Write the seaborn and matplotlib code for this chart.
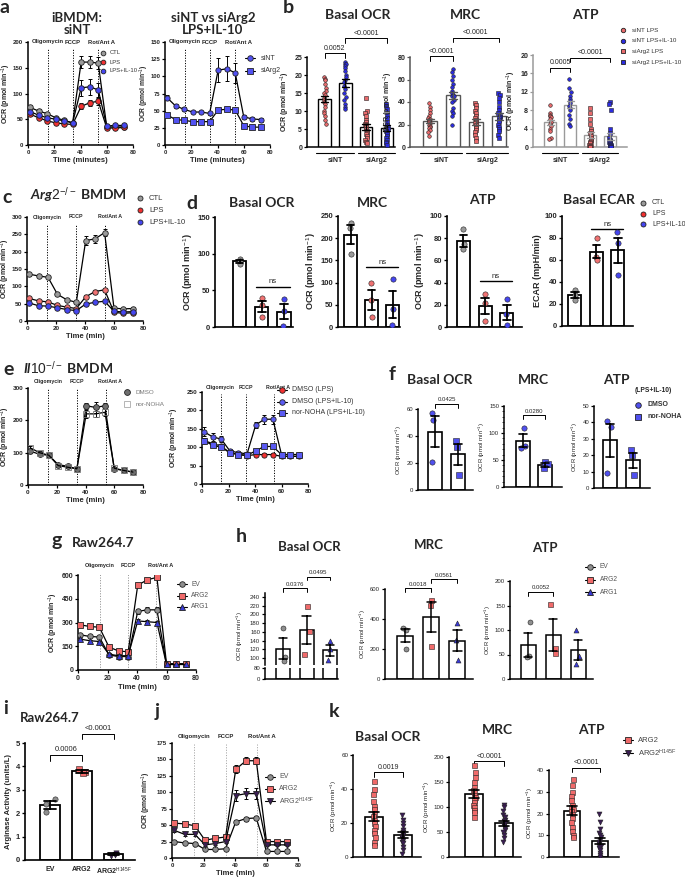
import numpy as np
import pandas as pd
import matplotlib
matplotlib.use("Agg")
import matplotlib.pyplot as plt
import matplotlib.transforms as mtransforms
from matplotlib.lines import Line2D
from matplotlib.ticker import MultipleLocator
import seaborn as sns

W, H = 685, 881

# seahorse time points (min) and injections
TIME = [1.5, 8, 14.5, 21, 27.5, 34, 40.5, 47, 53.5, 60, 66.5, 73]
INJ = ["Oligomycin", "FCCP", "Rot/Ant A"]

# a: iBMDM siNT
A1_CTL = [73, 66, 61, 53, 48, 43, 161, 161, 159, 35, 35, 35]
A1_CTL_SEM = [4, 3, 3, 2, 2, 2, 11, 11, 11, 3, 3, 3]
A1_LPS = [60, 53, 47, 43, 41, 40, 75, 82, 85, 33, 33, 34]
A1_LPS_SEM = [3, 2, 2, 2, 2, 2, 6, 6, 7, 2, 2, 2]
A1_IL10 = [65, 58, 53, 50, 47, 43, 111, 113, 107, 37, 38, 38]
A1_IL10_SEM = [3, 3, 3, 2, 2, 2, 15, 16, 14, 2, 2, 2]
# a: siNT vs siArg2 (LPS+IL-10)
A2_SINT = [69, 57, 52, 48, 48, 46, 109, 111, 105, 41, 38, 37]
A2_SINT_SEM = [4, 3, 3, 2, 2, 2, 17, 18, 15, 3, 3, 3]
A2_SIARG2 = [44, 37, 36, 34, 34, 34, 51, 52, 51, 28, 26, 26]
A2_SIARG2_SEM = [2, 2, 2, 2, 2, 2, 3, 3, 3, 2, 2, 2]

# b: siNT / siArg2 bars
B_CATS = ["siNT LPS", "siNT LPS+IL-10", "siArg2 LPS", "siArg2 LPS+IL-10"]
B_BASAL = [
    [19.5, 19, 18.5, 17.5, 16.5, 15.5, 15, 14.5, 13.5, 13, 12.5, 12, 11, 10, 9.5, 8.5, 7.5, 6.5],
    [23.5, 23, 23, 22.5, 22, 21, 20, 19.5, 18.5, 18, 17, 16, 15, 14, 13, 12, 11, 10.5],
    [13.7, 10, 9.5, 8.5, 7.5, 7, 6.5, 6, 5.5, 5, 4.5, 4, 3.5, 3, 2.5, 2, 1.5, 1],
    [12, 11.5, 10.5, 9, 8, 7, 6, 5.5, 5, 4.5, 4, 3.5, 3, 2.5, 2, 1.5, 1, 0.5]]
B_MRC = [
    [39, 36, 33, 30, 28, 26, 25, 24, 23, 22, 21, 20, 19, 18, 17, 15, 13, 10],
    [69, 67, 63, 60, 56, 53, 50, 48, 46, 45, 45, 42, 40, 35, 32, 30, 28, 20],
    [39, 37, 35, 32, 30, 28, 26, 24, 22, 21, 20, 18, 17, 15, 13, 11, 8, 5],
    [48, 46, 44, 40, 36, 33, 30, 28, 27, 26, 24, 22, 20, 18, 16, 14, 11, 8]]
B_ATP = [
    [9.2, 7.5, 7, 6.8, 6.5, 6, 5.5, 5, 4.5, 4, 3.5, 2, 1.8],
    [14.7, 12.8, 12, 11, 10.5, 10, 9.5, 9, 8.5, 8, 7, 6, 5, 4.5],
    [8.5, 7.5, 6, 5, 4, 3.5, 3, 2.5, 2, 1.5, 1.2, 1, 0.8, 0.5, 0.3, 0.2, 0.1, 0],
    [9.8, 9.3, 8, 4, 3, 2, 1.5, 1.2, 1, 0.8, 0.6, 0.5, 0.4, 0.3, 0.2, 0.1, 0.1, 0]]

# c: Arg2-/- BMDM
C_CTL = [135, 130, 126, 77, 61, 54, 232, 237, 255, 37, 35, 36]
C_CTL_SEM = [4, 3, 3, 3, 3, 3, 12, 12, 10, 3, 3, 3]
C_LPS = [65, 58, 55, 45, 40, 36, 70, 85, 90, 25, 22, 24]
C_LPS_SEM = [3, 3, 3, 3, 2, 2, 4, 5, 6, 2, 2, 2]
C_IL10 = [52, 44, 43, 38, 33, 30, 49, 54, 57, 28, 26, 27]
C_IL10_SEM = [3, 3, 3, 2, 2, 2, 3, 3, 3, 2, 2, 2]

# d: Arg2-/- bars (CTL, LPS, LPS+IL-10)
D_CATS = ["CTL", "LPS", "LPS+IL-10"]
D_BASAL = [[93, 90, 86], [40, 30, 13], [38, 22, 2]]
D_MRC = [[235, 222, 165], [100, 60, 22], [107, 40, 5]]
D_ATP = [[88, 75, 70], [30, 22, 5], [25, 12, 2]]
D_ECAR = [[33, 28, 24], [80, 63, 60], [85, 75, 46]]

# e: Il10-/- BMDM
E1_DMSO = [105, 95, 92, 63, 58, 50, 245, 240, 245, 50, 45, 40]
E1_DMSO_SEM = [5, 5, 4, 3, 3, 3, 10, 18, 10, 3, 3, 3]
E1_NOHA = [115, 100, 92, 60, 55, 50, 220, 220, 225, 52, 45, 40]
E1_NOHA_SEM = [5, 5, 4, 3, 3, 3, 12, 10, 12, 3, 3, 3]
E2_LPS = [118, 110, 103, 85, 80, 77, 80, 80, 80, 75, 75, 75]
E2_LPS_SEM = [6, 5, 5, 3, 3, 3, 3, 3, 3, 3, 3, 3]
E2_IL10 = [142, 128, 122, 90, 85, 82, 160, 176, 176, 80, 80, 80]
E2_IL10_SEM = [12, 10, 8, 4, 4, 4, 8, 12, 12, 3, 3, 3]
E2_NOHA = [118, 105, 100, 85, 80, 78, 90, 102, 102, 80, 80, 80]
E2_NOHA_SEM = [6, 5, 5, 3, 3, 3, 4, 5, 5, 3, 3, 3]

# f: Il10-/- bars (LPS+IL-10)
F_CATS = ["DMSO", "nor-NOHA"]
F_BASAL = [[57, 52, 21], [36, 32, 11]]
F_MRC = [[110, 75, 72], [47, 42, 35]]
F_ATP = [[41, 37, 9], [23, 20, 8]]

# g: Raw264.7
G_EV = [222, 212, 208, 95, 85, 85, 370, 380, 380, 35, 35, 35]
G_EV_SEM = [6, 6, 6, 5, 5, 5, 15, 15, 15, 4, 4, 4]
G_ARG2 = [285, 275, 270, 145, 120, 115, 535, 570, 585, 40, 40, 40]
G_ARG2_SEM = [8, 8, 8, 6, 6, 6, 12, 12, 10, 4, 4, 4]
G_ARG1 = [195, 185, 180, 100, 90, 90, 310, 305, 300, 35, 35, 35]
G_ARG1_SEM = [6, 6, 6, 5, 5, 5, 10, 10, 10, 4, 4, 4]

# h: Raw264.7 bars
H_CATS = ["EV", "ARG2", "ARG1"]
H_BASAL = [[168, 103, 93], [220, 163, 110], [138, 120, 95]]
H_MRC = [[340, 324, 200], [524, 496, 218], [373, 262, 129]]
H_ATP = [[117, 47, 44], [154, 63, 53], [100, 47, 30]]

# i: arginase activity
I_CATS = ["EV", "ARG2", "ARG2$^{\\mathrm{H145F}}$"]
I_ACT = [[2.6, 2.4, 2.05], [3.9, 3.75, 3.7], [0.32, 0.22, 0.18]]

# j: Raw264.7 EV / ARG2 / ARG2 H145F
J_EV = [25, 23, 22, 13, 13, 14, 55, 60, 61, 10, 10, 10]
J_EV_SEM = [2, 2, 2, 1, 1, 1, 3, 3, 3, 1, 1, 1]
J_ARG2 = [53, 52, 49, 27, 30, 32, 135, 148, 148, 25, 25, 25]
J_ARG2_SEM = [3, 3, 3, 2, 2, 2, 6, 5, 5, 2, 2, 2]
J_MUT = [42, 36, 36, 20, 22, 25, 95, 98, 98, 20, 20, 20]
J_MUT_SEM = [3, 3, 3, 2, 2, 2, 8, 8, 8, 2, 2, 2]

# k: ARG2 vs ARG2 H145F bars
K_CATS = ["ARG2", "ARG2 H145F"]
K_BASAL = [[45, 40, 37, 33, 30, 28, 26, 24, 22, 20, 18, 16, 14, 12, 9, 7],
           [25, 22, 20, 18, 16, 15, 14, 13, 12, 11, 10, 9, 8, 6, 4, 2]]
K_MRC = [[185, 170, 160, 150, 140, 135, 130, 125, 120, 115, 110, 105, 100, 95, 90, 80],
         [105, 100, 92, 85, 80, 75, 72, 68, 65, 62, 58, 55, 50, 45, 38, 30]]
K_ATP = [[36, 33, 30, 28, 26, 24, 23, 22, 21, 20, 18, 16, 14, 12, 10, 9],
         [20, 16, 13, 11, 10, 9, 8, 7, 6, 5, 5, 4, 3, 2, 1, 0]]

GRAY = "#9a9a9a"
RED = "#f23030"
BLUE = "#4646f0"
SALMON = "#f07272"
DKGRAY = "#6e6e6e"
PURPLE = "#3b1d55"
OCR = "OCR (pmol min$^{-1}$)"

sns.set_theme(style="ticks")
plt.rcParams["font.family"] = ["Liberation Sans", "DejaVu Sans"]
plt.rcParams["mathtext.fontset"] = "custom"
plt.rcParams["mathtext.rm"] = "Liberation Sans"
plt.rcParams["mathtext.it"] = "Lato:italic:bold"
plt.rcParams["mathtext.bf"] = "Liberation Sans:bold"
plt.rcParams["axes.facecolor"] = "none"

fig = plt.figure(figsize=(W / 100, H / 100), dpi=100)


def add_ax(x0, y0, x1, y1):
    return fig.add_axes([x0 / W, 1 - y1 / H, (x1 - x0) / W, (y1 - y0) / H])


def ylab_at(ax, xpx):
    # xpx: right edge of the rotated y label, in picture pixels
    pos = ax.get_position()
    ax.yaxis.set_label_coords((xpx - pos.x0 * W) / (pos.width * W), 0.5)


def ftext(x, y, s, **kw):
    fig.text(x / W, 1 - y / H, s, **kw)


def letter(x, y, s):
    ftext(x, y, s, fontsize=14, fontweight="bold", family="Lato", va="top", ha="left")


def title(x, y, s, fs=10):
    ftext(x, y, s, fontsize=fs, fontweight="bold", family="Lato", ha="center", va="center",
          linespacing=1.1)


def legend_px(x, y, dy, entries, fs=5, tx=9, line=False, ms=3.6, weight="normal", tcolor="#333333"):
    for i, (label, face, marker) in enumerate(entries):
        yy = 1 - (y + i * dy) / H
        if line:
            fig.add_artist(Line2D([(x - 5) / W, (x + 5) / W], [yy, yy], color="black", lw=0.8,
                                  transform=fig.transFigure))
        edge = "#aaaaaa" if face == "none" else "#222222"
        fig.add_artist(Line2D([x / W], [yy], marker=marker, ms=ms, mfc=face, mec=edge, mew=0.6,
                              ls="none", transform=fig.transFigure))
        fig.text((x + tx) / W, yy, label, fontsize=fs, va="center", ha="left", weight=weight,
                 color=tcolor)


def style(ax, ylim, yticks, ylabel, xlim=None, fs=5, lw=1.1, bold=True, color="black", ylfs=None):
    w = "bold" if bold else "normal"
    ax.set_ylim(ylim)
    ax.set_yticks(yticks)
    ax.set_yticklabels([f"{t:g}" for t in yticks], fontsize=fs, fontweight=w)
    if xlim is not None:
        ax.set_xlim(xlim)
    ax.set_ylabel(ylabel, fontsize=ylfs or fs, fontweight=w, labelpad=1.5)
    ax.set_xlabel("")
    sns.despine(ax=ax)
    for s in ("left", "bottom"):
        ax.spines[s].set_linewidth(lw)
        ax.spines[s].set_color(color)
    ax.tick_params(axis="both", width=lw * 0.8, length=2.5, pad=1, color=color)


def seahorse(ax, series, ylim, yticks, xlabel, inj, lab_y=1.0, ms=4.0, inj_color="black",
             fs=5, inj_fs=4.2, ylabel=OCR, ylab_x=None, ylfs=5):
    for vals, sem, face, marker in series:
        edge = "#777777" if face == "none" else "#222222"
        sns.lineplot(x=TIME, y=vals, ax=ax, color="black", linewidth=0.9, marker=marker,
                     markersize=ms, markerfacecolor=face, markeredgecolor=edge,
                     markeredgewidth=0.6, zorder=3)
        ax.errorbar(TIME, vals, yerr=sem, fmt="none", ecolor="black", elinewidth=0.7,
                    capsize=1.6, capthick=0.7, zorder=2)
    style(ax, ylim, yticks, ylabel, xlim=(0, 80), fs=fs, ylfs=ylfs)
    ax.set_xticks([0, 20, 40, 60, 80])
    ax.set_xticklabels(["0", "20", "40", "60", "80"], fontsize=fs, fontweight="bold")
    ax.set_xlabel(xlabel, fontsize=5.5, fontweight="bold", labelpad=1.5)
    if ylab_x is not None:
        ylab_at(ax, ylab_x)
    tr = mtransforms.blended_transform_factory(ax.transData, ax.transAxes)
    for t, lab in zip(inj, INJ):
        ax.plot([t, t], [0, lab_y - 0.07], transform=tr, color=inj_color, lw=0.7,
                ls=(0, (1.2, 1.5)), zorder=1)
        ax.text(t + (3 if lab.startswith("Rot") else 0), lab_y, lab, transform=tr,
                ha="center", va="center", fontsize=inj_fs, fontweight="bold", clip_on=False)


def bars(ax, cats, groups, faces, markers, edge="black", lw=1.1, ms=3.0, jitter=0.08,
         width=0.6, points=True, mec="#222222"):
    df = pd.DataFrame({"grp": [c for c, g in zip(cats, groups) for _ in g],
                       "val": [v for g in groups for v in g]})
    sns.barplot(data=df, x="grp", y="val", order=cats, errorbar="se", color="white",
                edgecolor=edge, linewidth=lw, width=width, capsize=0.35,
                err_kws={"color": edge, "linewidth": lw}, ax=ax)
    for ln in ax.lines:
        ln.set_zorder(4)
    if points:
        for c, f, m in zip(cats, faces, markers):
            sns.stripplot(data=df[df["grp"] == c], x="grp", y="val", order=cats, color=f,
                          marker=m, size=ms, jitter=jitter, edgecolor=mec, linewidth=0.4,
                          ax=ax, zorder=3)
    ax.set_xticks([])


def bracket(ax, x1, x2, y, text, h, fs=5, lw=0.7, weight="normal"):
    ax.plot([x1, x1, x2, x2], [y - h, y, y, y - h], color="black", lw=lw, clip_on=False)
    ax.annotate(text, xy=((x1 + x2) / 2, y), xytext=(0, 1), textcoords="offset points",
                ha="center", va="bottom", fontsize=fs, fontweight=weight, annotation_clip=False)


def ns_line(ax, y):
    ax.plot([0.75, 2.25], [y, y], color="black", lw=1.0, clip_on=False)
    ax.annotate("ns", xy=(1.5, y), xytext=(0, 1), textcoords="offset points", ha="center",
                va="bottom", fontsize=5.5)


# ---------------- a ----------------
letter(0, -1, "a")
title(77, 24, "iBMDM:\nsiNT", fs=9.5)
title(213, 24, "siNT vs siArg2\nLPS+IL-10", fs=9.5)
ax = add_ax(28, 42, 133, 145)
seahorse(ax, [(A1_CTL, A1_CTL_SEM, GRAY, "o"), (A1_LPS, A1_LPS_SEM, RED, "o"),
              (A1_IL10, A1_IL10_SEM, BLUE, "o")],
         (0, 200), [0, 50, 100, 150, 200], "Time (minutes)", [15, 34, 53], ylab_x=13, fs=4.4)
legend_px(103, 53, 9, [("CTL", GRAY, "o"), ("LPS", RED, "o"), ("LPS+IL-10", BLUE, "o")],
          fs=4.2, tx=7, ms=3.4)
ax = add_ax(165, 42, 270, 145)
seahorse(ax, [(A2_SINT, A2_SINT_SEM, "#5252f2", "o"), (A2_SIARG2, A2_SIARG2_SEM, "#5252f2", "s")],
         (0, 150), [0, 25, 50, 75, 100, 125, 150], "Time (minutes)", [15, 34, 53], ms=3.8,
         ylab_x=151, fs=4.2, ylfs=4.8)
legend_px(250, 58, 13, [("siNT", "#5252f2", "o"), ("siArg2", "#5252f2", "s")], line=True,
          tx=11, ms=4)

# ---------------- b ----------------
letter(283, -1, "b")
B_FACES = ["#e86a6c", "#2c2ce0", "#e86a6c", "#2c2ce0"]
B_MARK = ["o", "o", "s", "s"]
b_axes = []
for (x0, y0, x1), data, ttl, tx, ylim, yt, ecol in [
        ((307, 57, 395), B_BASAL, "Basal OCR", 358, (0, 25), [0, 5, 10, 15, 20, 25], "black"),
        ((410, 57, 508), B_MRC, "MRC", 465, (0, 80), [0, 20, 40, 60, 80], "#555555"),
        ((533, 55, 627), B_ATP, "ATP", 585, (0, 20), [0, 4, 8, 12, 16, 20], "#9a9a9a")]:
    ax = add_ax(x0, y0, x1, 147)
    bars(ax, B_CATS, data, B_FACES, B_MARK, edge=ecol, lw=1.0, ms=2.6, jitter=0.05)
    xr = (-0.85, 3.4) if ttl != "ATP" else (-0.85, 3.85)
    style(ax, ylim, yt, OCR, xlim=xr, color=ecol)
    title(tx, 15, ttl)
    tr = mtransforms.blended_transform_factory(ax.transData, ax.transAxes)
    for (g0, g1), lab in [((-0.4, 1.4), "siNT"), ((1.6, 3.4), "siArg2")]:
        ax.plot([g0, g1], [-0.07, -0.07], transform=tr, color="black", lw=0.8, clip_on=False)
        ax.text((g0 + g1) / 2, -0.15, lab, transform=tr, ha="center", va="center",
                fontsize=5, fontweight="bold")
    b_axes.append(ax)
bracket(b_axes[0], 0, 1, 26.1, "0.0052", 1.3)
bracket(b_axes[0], 1, 3, 30.3, "<0.0001", 1.3)
bracket(b_axes[1], 0, 1, 80.5, "<0.0001", 4)
bracket(b_axes[1], 1, 3, 97, "<0.0001", 4)
bracket(b_axes[2], 0, 1, 17.2, "0.0005", 1)
bracket(b_axes[2], 1, 3, 19.4, "<0.0001", 1)
legend_px(623, 30, 10.7, [("siNT LPS", "#e86a6c", "o"), ("siNT LPS+IL-10", "#2c2ce0", "o"),
                          ("siArg2 LPS", "#e86a6c", "s"), ("siArg2 LPS+IL-10", "#2c2ce0", "s")],
          fs=4.5, ms=3.2)

# ---------------- c ----------------
letter(2, 189, "c")
ftext(30, 195, "$\\mathit{Arg2}^{-/-}$ BMDM", fontsize=10, fontweight="bold", family="Lato",
      va="center", ha="left")
ax = add_ax(27, 217, 143, 321)
seahorse(ax, [(C_CTL, C_CTL_SEM, GRAY, "o"), (C_LPS, C_LPS_SEM, SALMON, "o"),
              (C_IL10, C_IL10_SEM, BLUE, "o")],
         (0, 300), [0, 50, 100, 150, 200, 250, 300], "Time (min)", [14, 34, 54], inj_fs=3.8,
         ylab_x=12, fs=4.6)
legend_px(140, 198, 12, [("CTL", GRAY, "o"), ("LPS", RED, "o"), ("LPS+IL-10", BLUE, "o")],
          fs=5.5)

# ---------------- d ----------------
letter(186, 195, "d")
D_FACES = [GRAY, SALMON, BLUE]
for (x0, y0, x1, y1), data, ttl, tx, ylim, yt, xr, ylab, nsy in [
        ((215, 217, 293, 327), D_BASAL, "Basal OCR", 262, (0, 150), [0, 50, 100, 150],
         (-1.1, 2.4), "OCR (pmol min$^{-1}$)", 55),
        ((338, 216, 400, 327), D_MRC, "MRC", 372, (0, 250), [0, 50, 100, 150, 200, 250],
         (-0.6, 2.35), "OCR (pmol min$^{-1}$)", 135),
        ((447, 216, 522, 327), D_ATP, "ATP", 482, (0, 100), [0, 20, 40, 60, 80, 100],
         (-0.75, 2.7), "OCR (pmol min$^{-1}$)", 41),
        ((562, 216, 633, 326), D_ECAR, "Basal ECAR", 599, (0, 100), [0, 20, 40, 60, 80, 100],
         (-0.6, 2.7), "ECAR (mpH/min)", 88)]:
    ax = add_ax(x0, y0, x1, y1)
    bars(ax, D_CATS, data, D_FACES, ["o", "o", "o"], lw=1.3, ms=3.8, jitter=0.03)
    style(ax, ylim, yt, ylab, xlim=xr, fs=5.5, lw=1.2, ylfs=6.5)
    ax.tick_params(axis="x", length=0)
    ns_line(ax, nsy)
    title(tx, 203 if ttl in ("Basal OCR", "MRC") else 200, ttl)
legend_px(643, 203, 10.5, [("CTL", GRAY, "o"), ("LPS", RED, "o"), ("LPS+IL-10", BLUE, "o")],
          fs=5)

# ---------------- e ----------------
letter(3, 361, "e")
ftext(23, 368, "$\\mathit{Il10}^{-/-}$ BMDM", fontsize=10, fontweight="bold", family="Lato",
      va="center", ha="left")
ax = add_ax(28, 388, 143, 485)
seahorse(ax, [(E1_DMSO, E1_DMSO_SEM, DKGRAY, "o"), (E1_NOHA, E1_NOHA_SEM, "none", "s")],
         (0, 300), [0, 100, 200, 300], "Time (min)", [14, 34, 54], lab_y=1.065, ms=4.2,
         inj_fs=3.8, ylab_x=12, fs=4.6)
legend_px(127, 392, 12, [("DMSO", DKGRAY, "o"), ("nor-NOHA", "none", "s")], fs=4.5, ms=4.2,
          tcolor="#777777")
ax = add_ax(202, 392, 308, 484)
seahorse(ax, [(E2_LPS, E2_LPS_SEM, RED, "o"), (E2_IL10, E2_IL10_SEM, "#5a5af2", "o"),
              (E2_NOHA, E2_NOHA_SEM, "#5a5af2", "s")],
         (0, 250), [0, 50, 100, 150, 200, 250], "Time (min)", [14, 33, 54], lab_y=1.045,
         ms=3.8, inj_fs=3.8, ylab_x=181, fs=4.6)
legend_px(282, 390, 11.5, [("DMSO (LPS)", RED, "o"), ("DMSO (LPS+IL-10)", "#5a5af2", "o"),
                           ("nor-NOHA (LPS+IL-10)", "#5a5af2", "s")], fs=5, line=True, tx=10,
          ms=4)

# ---------------- f ----------------
letter(389, 366, "f")
F_FACES = ["#5050ee", "#5050ee"]
f_axes = []
for (x0, y0, x1, y1), data, ttl, tx, ylim, yt, xr in [
        ((418, 409, 473, 490), F_BASAL, "Basal OCR", 440, (0, 60), [0, 20, 40, 60], (-0.74, 1.65)),
        ((504, 406, 562, 487), F_MRC, "MRC", 533, (0, 150), [0, 50, 100, 150], (-0.86, 1.77)),
        ((594, 406, 650, 488), F_ATP, "ATP", 616, (0, 50), [0, 10, 20, 30, 40, 50], (-0.7, 1.74))]:
    ax = add_ax(x0, y0, x1, y1)
    bars(ax, F_CATS, data, F_FACES, ["o", "s"], lw=1.2, ms=3.8, jitter=0.15)
    style(ax, ylim, yt, OCR, xlim=xr, fs=4.3, lw=1.1, bold=False)
    title(tx, 380, ttl)
    f_axes.append(ax)
f_axes[1].yaxis.set_minor_locator(MultipleLocator(10))
f_axes[1].tick_params(axis="y", which="minor", length=1.5, width=0.6)
bracket(f_axes[0], 0, 1, 64, "0.0425", 3, fs=4.3)
bracket(f_axes[1], 0, 1, 133, "0.0280", 7, fs=4.3)
ftext(653, 391, "(LPS+IL-10)", fontsize=4.8, fontweight="bold", ha="center", va="center")
legend_px(638, 405, 12, [("DMSO", "#5050ee", "o"), ("nor-NOHA", "#5050ee", "s")], fs=5,
          weight="bold", ms=4)

# ---------------- g ----------------
letter(51, 532, "g")
ftext(72, 543, "Raw264.7", fontsize=10, fontweight="bold", family="Lato", va="center")
ax = add_ax(78, 575, 196, 670)
seahorse(ax, [(G_EV, G_EV_SEM, "#8f8f8f", "o"), (G_ARG2, G_ARG2_SEM, "#f06a6a", "s"),
              (G_ARG1, G_ARG1_SEM, "#3a3ad8", "^")],
         (0, 600), [0, 150, 300, 450, 600], "Time (min)", [15, 34, 53], lab_y=1.095,
         inj_color="#999999", inj_fs=4.0, ylab_x=60)
legend_px(182, 584, 11.5, [("EV", "#8f8f8f", "o"), ("ARG2", "#f06a6a", "s"),
                           ("ARG1", "#3a3ad8", "^")], fs=4.8, line=True, tx=9, ms=4,
          tcolor="#555555")

# ---------------- h ----------------
letter(236, 528, "h")
H_FACES = ["#8f8f8f", "#f06a6a", "#3a3ad8"]
H_MARK = ["o", "s", "^"]
hu = add_ax(265, 593, 338, 665)
bars(hu, H_CATS, H_BASAL, H_FACES, H_MARK, lw=1.1, ms=3.6, jitter=0.12)
style(hu, (84, 249), list(range(100, 241, 20)), "", xlim=(-0.77, 2.34), fs=4.3, bold=False)
hu.spines["bottom"].set_visible(False)
hl = add_ax(265, 668, 338, 679)
bars(hl, H_CATS, H_BASAL, H_FACES, H_MARK, lw=1.1, points=False)
style(hl, (0, 82), [0, 80], "", xlim=(-0.77, 2.34), fs=4.3, bold=False)
hu.set_ylabel(OCR, fontsize=4.3, labelpad=1.5)
hu.yaxis.set_label_coords(-0.27, 0.4)
bracket(hu, 0, 1, 260, "0.0376", 8, fs=4.3)
bracket(hu, 1, 2, 286, "0.0495", 8, fs=4.3)
title(309, 547, "Basal OCR", fs=9.5)
ax = add_ax(385, 589, 473, 679)
bars(ax, H_CATS, H_MRC, H_FACES, H_MARK, lw=1.1, ms=3.6, jitter=0.12)
style(ax, (0, 600), [0, 200, 400, 600], OCR, xlim=(-0.77, 2.6), fs=4.3, bold=False)
bracket(ax, 0, 1, 607, "0.0018", 25, fs=4.3)
bracket(ax, 1, 2, 667, "0.0561", 25, fs=4.3)
title(429, 545, "MRC", fs=9.5)
ax = add_ax(510, 581, 593, 679)
bars(ax, H_CATS, H_ATP, H_FACES, H_MARK, lw=1.1, ms=3.6, jitter=0.12)
style(ax, (0, 200), [0, 50, 100, 150, 200], OCR, xlim=(-0.72, 2.6), fs=4.3, bold=False)
bracket(ax, 0, 1, 178, "0.0052", 9, fs=4.3)
title(545, 548, "ATP", fs=9.5)
legend_px(590, 567, 12.5, [("EV", "#8f8f8f", "o"), ("ARG2", "#f06a6a", "s"),
                           ("ARG1", "#3a3ad8", "^")], fs=4.8, line=True, tx=10, ms=4,
          tcolor="#555555")

# ---------------- i ----------------
letter(3, 700, "i")
title(50, 718, "Raw264.7", fs=9.5)
ax = add_ax(25, 743, 135, 860)
bars(ax, I_CATS, I_ACT, ["#8f8f8f", "#f06a6a", PURPLE], ["o", "s", "v"], lw=1.3, ms=3.8,
     jitter=0.15)
style(ax, (0, 5), [0, 1, 2, 3, 4, 5], "Arginase Activity (units/L)", xlim=(-0.78, 2.66),
      fs=5.5, lw=1.2)
ylab_at(ax, 12)
ax.set_xticks([0, 1, 2])
ax.set_xticklabels(I_CATS, fontsize=5, fontweight="bold")
ax.tick_params(axis="x", length=0, pad=4)
bracket(ax, 0, 1, 4.5, "0.0006", 0.25, fs=5.5)
bracket(ax, 1, 2, 5.4, "<0.0001", 0.25, fs=5.5)

# ---------------- j ----------------
letter(155, 703, "j")
ax = add_ax(172, 743, 298, 858)
seahorse(ax, [(J_EV, J_EV_SEM, "#8f8f8f", "o"), (J_ARG2, J_ARG2_SEM, "#f06a6a", "s"),
              (J_MUT, J_MUT_SEM, PURPLE, "v")],
         (0, 175), [0, 25, 50, 75, 100, 125, 150, 175], "Time (min)", [14, 34, 54],
         lab_y=1.06, inj_color="#aaaaaa", inj_fs=4.3, ylab_x=153, fs=4.4, ylfs=4.8)
legend_px(270, 777, 12, [("EV", "#8f8f8f", "o"), ("ARG2", "#f06a6a", "s"),
                         ("ARG2$^{\\mathrm{H145F}}$", PURPLE, "v")], fs=5, line=True, tx=9,
          ms=4, tcolor="#555555")

# ---------------- k ----------------
letter(329, 703, "k")
K_FACES = ["#f06a6a", PURPLE]
for (x0, y0, x1, y1), data, ttl, tx, ty, ylim, yt, xr, by, bt, bh in [
        ((353, 755, 421, 857), K_BASAL, "Basal OCR", 388, 737, (0, 60), [0, 20, 40, 60],
         (-0.72, 1.62), 50, "0.0019", 3),
        ((449, 757, 521, 857), K_MRC, "MRC", 497, 730, (0, 200), [0, 50, 100, 150, 200],
         (-0.83, 1.57), 192, "<0.0001", 9),
        ((549, 770, 619, 857), K_ATP, "ATP", 591, 730, (0, 40), [0, 10, 20, 30, 40],
         (-0.82, 1.68), 41, "<0.0001", 2)]:
    ax = add_ax(x0, y0, x1, y1)
    bars(ax, K_CATS, data, K_FACES, ["s", "v"], lw=1.2, ms=3.6, jitter=0.03)
    style(ax, ylim, yt, OCR, xlim=xr, fs=4.5, lw=1.1, bold=False)
    bracket(ax, 0, 1, by, bt, bh, fs=5)
    title(tx, ty, ttl, fs=10)
legend_px(628, 740, 13, [("ARG2", "#f06a6a", "s"), ("ARG2$^{\\mathrm{H145F}}$", PURPLE, "v")],
          fs=5.5, line=True, tx=10, ms=4.5, tcolor="#444444")

fig.savefig("out.png", dpi=100, facecolor="white")
